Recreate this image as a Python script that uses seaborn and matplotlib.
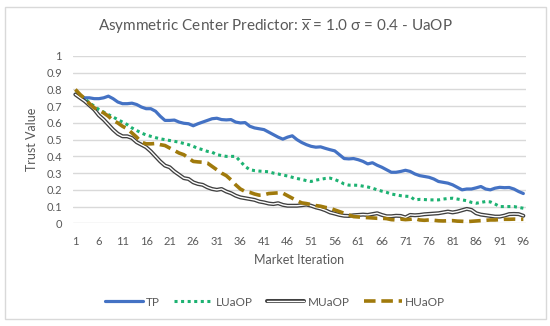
import matplotlib
matplotlib.use("Agg")
import matplotlib.pyplot as plt
import matplotlib.patheffects as pe
from matplotlib.patches import Rectangle
import seaborn as sns
import pandas as pd

iterations = list(range(1, 97))
tick_labels = list(range(1, 97, 5))

tp = [0.77, 0.76, 0.75, 0.75, 0.745, 0.745, 0.75, 0.76, 0.745, 0.725,
      0.715, 0.715, 0.718, 0.71, 0.695, 0.685, 0.685, 0.67, 0.64, 0.615,
      0.615, 0.617, 0.605, 0.598, 0.595, 0.583, 0.595, 0.605, 0.615, 0.625,
      0.628, 0.62, 0.618, 0.62, 0.605, 0.60, 0.602, 0.58, 0.57, 0.565,
      0.56, 0.545, 0.53, 0.515, 0.503, 0.515, 0.523, 0.50, 0.483, 0.47,
      0.46, 0.455, 0.457, 0.448, 0.44, 0.433, 0.41, 0.387, 0.385, 0.387,
      0.38, 0.37, 0.355, 0.362, 0.347, 0.335, 0.32, 0.305, 0.305, 0.31,
      0.317, 0.31, 0.295, 0.285, 0.28, 0.275, 0.265, 0.25, 0.245, 0.24,
      0.23, 0.215, 0.20, 0.205, 0.205, 0.212, 0.22, 0.205, 0.20, 0.21,
      0.215, 0.213, 0.214, 0.205, 0.19, 0.178]

luaop = [0.78, 0.765, 0.745, 0.72, 0.70, 0.68, 0.665, 0.65, 0.635, 0.62,
         0.605, 0.59, 0.57, 0.555, 0.54, 0.528, 0.52, 0.512, 0.505, 0.50,
         0.495, 0.49, 0.485, 0.477, 0.47, 0.46, 0.448, 0.44, 0.43, 0.425,
         0.41, 0.405, 0.40, 0.40, 0.40, 0.37, 0.34, 0.32, 0.315, 0.312,
         0.31, 0.308, 0.30, 0.295, 0.288, 0.283, 0.275, 0.268, 0.262, 0.255,
         0.25, 0.258, 0.263, 0.268, 0.27, 0.262, 0.25, 0.235, 0.228, 0.228,
         0.227, 0.222, 0.217, 0.21, 0.20, 0.192, 0.185, 0.175, 0.17, 0.165,
         0.162, 0.16, 0.14, 0.143, 0.142, 0.14, 0.14, 0.14, 0.145, 0.148,
         0.15, 0.145, 0.14, 0.135, 0.125, 0.12, 0.125, 0.13, 0.128, 0.115,
         0.10, 0.10, 0.10, 0.10, 0.095, 0.09]

muaop = [0.77, 0.75, 0.73, 0.705, 0.68, 0.645, 0.62, 0.59, 0.56, 0.535,
         0.52, 0.52, 0.51, 0.485, 0.47, 0.455, 0.43, 0.40, 0.37, 0.345,
         0.335, 0.31, 0.29, 0.27, 0.265, 0.245, 0.235, 0.23, 0.215, 0.205,
         0.20, 0.205, 0.19, 0.18, 0.165, 0.155, 0.15, 0.145, 0.14, 0.13,
         0.125, 0.118, 0.115, 0.12, 0.11, 0.105, 0.105, 0.105, 0.108, 0.112,
         0.105, 0.095, 0.088, 0.078, 0.065, 0.058, 0.05, 0.045, 0.044, 0.048,
         0.05, 0.052, 0.05, 0.055, 0.06, 0.05, 0.042, 0.042, 0.045, 0.044,
         0.035, 0.05, 0.048, 0.05, 0.054, 0.056, 0.058, 0.06, 0.065, 0.07,
         0.065, 0.07, 0.078, 0.086, 0.08, 0.06, 0.052, 0.048, 0.044, 0.04,
         0.04, 0.046, 0.055, 0.056, 0.055, 0.045]

huaop = [0.80, 0.77, 0.745, 0.715, 0.69, 0.675, 0.66, 0.64, 0.615, 0.60,
         0.58, 0.565, 0.54, 0.515, 0.485, 0.475, 0.475, 0.477, 0.47, 0.465,
         0.45, 0.435, 0.42, 0.41, 0.39, 0.37, 0.367, 0.365, 0.36, 0.34,
         0.32, 0.30, 0.285, 0.26, 0.23, 0.205, 0.19, 0.185, 0.175, 0.168,
         0.17, 0.178, 0.18, 0.182, 0.18, 0.165, 0.15, 0.135, 0.122, 0.118,
         0.112, 0.106, 0.102, 0.095, 0.09, 0.08, 0.07, 0.06, 0.05, 0.04,
         0.038, 0.035, 0.034, 0.032, 0.03, 0.03, 0.028, 0.022, 0.02, 0.025,
         0.022, 0.024, 0.028, 0.02, 0.018, 0.02, 0.018, 0.015, 0.014, 0.015,
         0.016, 0.013, 0.012, 0.01, 0.012, 0.014, 0.016, 0.018, 0.02, 0.02,
         0.022, 0.024, 0.024, 0.025, 0.024, 0.024]

df = pd.DataFrame({"it": iterations, "TP": tp, "LUaOP": luaop,
                   "MUaOP": muaop, "HUaOP": huaop})

sns.set_theme(style="white")
plt.rcParams["font.family"] = ["Lato", "DejaVu Sans"]
plt.rcParams["mathtext.fontset"] = "custom"
plt.rcParams["mathtext.rm"] = "Lato"
plt.rcParams["mathtext.it"] = "Lato:italic"

text_color = "#595959"
grid_color = "#D9D9D9"

fig = plt.figure(figsize=(5.5, 3.26), dpi=100)
ax = fig.add_axes([73 / 550, (326 - 223.3) / 326, (525.7 - 73) / 550, (223.3 - 56) / 326])

# chart border
fig.patches.append(Rectangle((5 / 550, 7 / 326), 541 / 550, 312 / 326,
                             transform=fig.transFigure, fill=False,
                             edgecolor=grid_color, linewidth=1.0))

sns.lineplot(data=df, x="it", y="TP", ax=ax, color="#4472C4", linewidth=2.3,
             label="TP", clip_on=False)
sns.lineplot(data=df, x="it", y="LUaOP", ax=ax, color="#1DB272", linewidth=2.2,
             linestyle=(0, (1.0, 1.15)), dash_capstyle="butt", label="LUaOP", clip_on=False)
sns.lineplot(data=df, x="it", y="MUaOP", ax=ax, color="white", linewidth=1.0,
             label="MUaOP", clip_on=False,
             path_effects=[pe.Stroke(linewidth=2.9, foreground="#404040"), pe.Normal()])
sns.lineplot(data=df, x="it", y="HUaOP", ax=ax, color="#A07A0C", linewidth=2.6,
             linestyle=(0, (3.2, 1.6)), label="HUaOP", clip_on=False)

ax.set_xlim(0.5, 96.5)
ax.set_ylim(0, 1)
ax.set_yticks([i / 10 for i in range(11)])
ax.set_yticklabels(["0", "0.1", "0.2", "0.3", "0.4", "0.5", "0.6", "0.7", "0.8", "0.9", "1"])
ax.set_xticks(tick_labels)
ax.set_xticklabels([str(t) for t in tick_labels])
ax.grid(axis="y", color=grid_color, linewidth=1.0)
ax.grid(axis="x", visible=False)
ax.set_axisbelow(True)
for s in ax.spines.values():
    s.set_visible(False)
ax.tick_params(axis="both", length=0, labelsize=8, colors=text_color)
ax.tick_params(axis="y", pad=8)
ax.tick_params(axis="x", pad=9)
ax.set_xlabel("Market Iteration", fontsize=9, color=text_color, labelpad=5)
ax.set_ylabel("Trust Value", fontsize=9, color=text_color, labelpad=6)

fig.text(0.5, (326 - 27) / 326, r"Asymmetric Center Predictor: $\overline{\mathrm{x}}$ = 1.0 σ = 0.4 - UaOP",
         ha="center", va="center", fontsize=11, color=text_color)

handles, labels = ax.get_legend_handles_labels()
ax.get_legend().remove()
fig.legend(handles, labels, loc="center", bbox_to_anchor=(0.5, (326 - 302) / 326),
           ncol=4, frameon=False, fontsize=8.5, labelcolor=text_color,
           handlelength=3.2, handletextpad=0.3, columnspacing=1.2)

fig.savefig("out.png", dpi=100, facecolor="white")
